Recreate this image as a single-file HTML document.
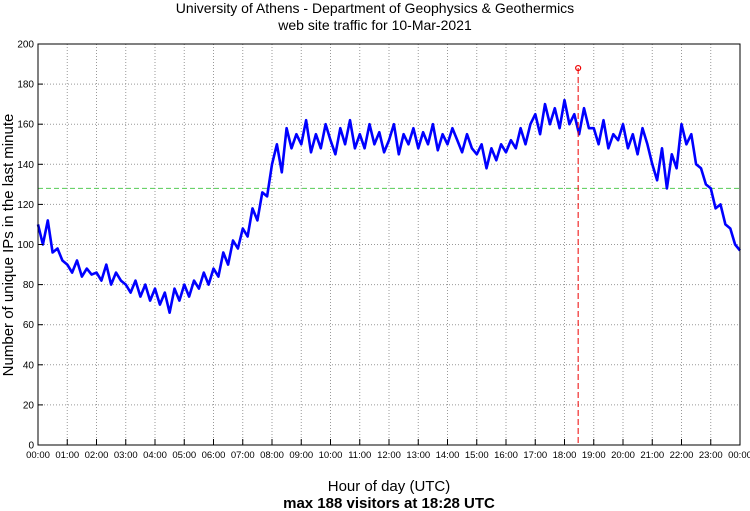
<!DOCTYPE html>
<html><head><meta charset="utf-8"><style>
body{margin:0;background:#fff;}
svg{display:block;font-family:"Liberation Sans",sans-serif;}
</style></head><body>
<svg id="chart" width="750" height="511">
<text x="375" y="13" text-anchor="middle" font-size="14">University of Athens - Department of Geophysics &amp; Geothermics</text>
<text x="375" y="30" text-anchor="middle" font-size="14">web site traffic for 10-Mar-2021</text>
<text transform="translate(13,245) rotate(-90)" text-anchor="middle" font-size="15">Number of unique IPs in the last minute</text>
<text x="389" y="491" text-anchor="middle" font-size="15">Hour of day (UTC)</text>
<text x="389" y="508" text-anchor="middle" font-size="15" font-weight="bold">max 188 visitors at 18:28 UTC</text>
<g id="grid"></g><g id="series"></g><g id="axes"></g>
</svg>
<script>
const yTicks=[0,20,40,60,80,100,120,140,160,180,200];
const xTickHours=[0,1,2,3,4,5,6,7,8,9,10,11,12,13,14,15,16,17,18,19,20,21,22,23,24];
const stepMinutes=10;
const visitors=[
110,100,112,96,98,92,
90,86,92,84,88,85,
86,82,90,80,86,82,
80,76,82,74,80,72,
78,70,76,66,78,72,
80,74,82,78,86,80,
88,84,96,90,102,98,
108,104,118,112,126,124,
140,150,136,158,148,155,
150,162,146,155,148,160,
152,145,158,150,162,148,
155,148,160,150,156,146,
152,160,145,155,150,158,
148,156,150,160,147,155,
150,158,152,146,155,148,
145,150,138,148,142,150,
146,152,148,158,150,160,
165,155,170,160,168,158,
172,160,165,155,168,158,
158,150,162,148,155,152,
160,148,155,145,158,150,
140,132,148,128,145,138,
160,150,155,140,138,130,
128,118,120,110,108,100,
97];
const meanValue=[128];
const maxPoint=[18*60+28,188];

const L=38,R=740,T=44,B=445,NS="http://www.w3.org/2000/svg";
const xs=m=>L+(R-L)*m/1440, ys=v=>B-(B-T)*v/200;
function mk(p,tag,a){const e=document.createElementNS(NS,tag);for(const k in a)e.setAttribute(k,a[k]);p.appendChild(e);return e;}
const g=document.getElementById('grid'),s=document.getElementById('series'),ax=document.getElementById('axes');
yTicks.forEach(v=>{
 const l=mk(g,'line',{x1:L,x2:R,y1:ys(v),y2:ys(v),stroke:'#999','stroke-dasharray':'1,2','stroke-width':1});
 
 
 mk(ax,'line',{x1:L,x2:L+5,y1:ys(v),y2:ys(v),stroke:'#000'});
 const t=mk(ax,'text',{x:L-4,y:ys(v)+3.5,'text-anchor':'end','font-size':10});t.textContent=v;
 
 
});
xTickHours.forEach(h=>{
 const x=xs(h*60);
 const l=mk(g,'line',{x1:x,x2:x,y1:T,y2:B,stroke:'#999','stroke-dasharray':'1,2','stroke-width':1});
 
 
 mk(ax,'line',{x1:x,x2:x,y1:B,y2:B-6,stroke:'#000'});
 const t=mk(ax,'text',{x:x,y:B+13,'text-anchor':'middle','font-size':9.5});
 t.textContent=String(h%24).padStart(2,'0')+':00';
 
 
});
const fr=mk(ax,'rect',{x:L,y:T,width:R-L,height:B-T,fill:'none',stroke:'#000','stroke-width':1});


const ml=mk(s,'line',{x1:L,x2:R,y1:ys(meanValue[0]),y2:ys(meanValue[0]),stroke:'#5c5','stroke-dasharray':'5,3'});


const pts=visitors.map((v,i)=>xs(i*stepMinutes).toFixed(1)+','+ys(v).toFixed(1)).join(' ');
const pl=mk(s,'polyline',{points:pts,fill:'none',stroke:'#00f','stroke-width':2.6,'stroke-linejoin':'round'});


const mx=xs(maxPoint[0]),my=ys(maxPoint[1]);
const dl=mk(s,'line',{x1:mx,x2:mx,y1:my,y2:B,stroke:'#e00','stroke-dasharray':'6,3'});


const c=mk(s,'circle',{cx:mx,cy:my,r:2.5,fill:'none',stroke:'#e00','stroke-width':1.2});


</script>
</body></html>
